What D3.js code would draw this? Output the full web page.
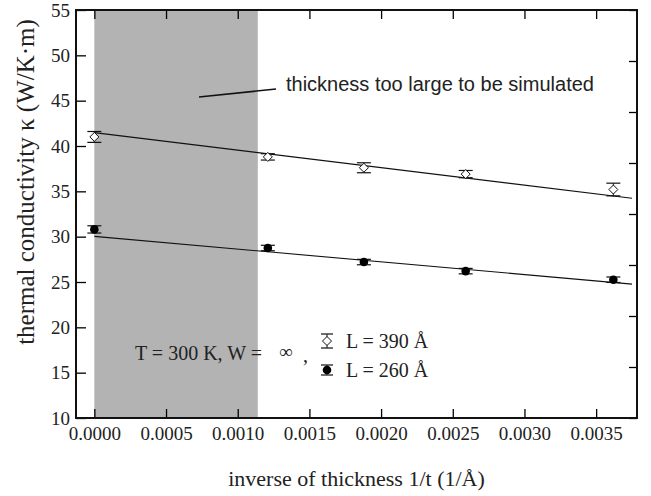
<!DOCTYPE html>
<html>
<head>
<meta charset="utf-8">
<script src="https://cdn.jsdelivr.net/npm/d3@7"></script>
<style>
  body { margin: 0; background: #fff; }
  .axis path, .axis line { stroke: #000; }
  .axis text { font-family: "Liberation Serif", "Times New Roman", serif; font-size: 19px; fill: #222; }
</style>
</head>
<body>
<script>
//data
var invThickness = [0, 0.00121, 0.00188, 0.00259, 0.00362];
var kappaL390 = [41.0, 38.8, 37.6, 36.9, 35.2];
var errL390 = [0.6, 0.35, 0.55, 0.4, 0.7];
var kappaL260 = [30.8, 28.75, 27.2, 26.2, 25.25];
var errL260 = [0.4, 0.3, 0.3, 0.3, 0.3];

//linear fits (end points)
var fitX = [0, 0.00375];
var fitL390 = [41.48, 34.23];
var fitL260 = [30.03, 24.77];

//region that can't be simulated
var shadeX = [0, 0.00114];

var xTicks = [0, 0.0005, 0.0010, 0.0015, 0.0020, 0.0025, 0.0030, 0.0035];
var yTicks = [10, 15, 20, 25, 30, 35, 40, 45, 50, 55];

var width = 651, height = 496;
var plotL = 76, plotR = 637, plotT = 10, plotB = 418;

var svg = d3.select("body")
    .append("svg")
    .attr("width", width)
    .attr("height", height);

//scales
var x = d3.scaleLinear()
    .domain([-0.000128, 0.003785])
    .range([plotL, plotR]);

var y = d3.scaleLinear()
    .domain([10, 55])
    .range([plotB, plotT]);

//grey band
svg.append("rect")
    .attr("x", x(shadeX[0]))
    .attr("y", plotT)
    .attr("width", x(shadeX[1]) - x(shadeX[0]))
    .attr("height", plotB - plotT)
    .style("fill", "#b3b3b3");

//axes, ticks point inward
var fmt = d3.format(".4f");

svg.append("g")
    .attr("class", "axis")
    .attr("transform", "translate(0," + plotB + ")")
    .call(d3.axisBottom(x).tickValues(xTicks).tickFormat(fmt).tickSizeInner(-9).tickSizeOuter(0).tickPadding(9))
    .call(function(g){ g.select(".domain").remove(); });

svg.append("g")
    .attr("class", "axis")
    .attr("transform", "translate(0," + plotT + ")")
    .call(d3.axisTop(x).tickValues(xTicks).tickFormat("").tickSizeInner(-9).tickSizeOuter(0))
    .call(function(g){ g.select(".domain").remove(); });

svg.append("g")
    .attr("class", "axis")
    .attr("transform", "translate(" + plotL + ",0)")
    .call(d3.axisLeft(y).tickValues(yTicks).tickSizeInner(-10).tickSizeOuter(0).tickPadding(6))
    .call(function(g){ g.select(".domain").remove(); });

//right axis has its own 8 divisions
svg.append("g")
    .attr("class", "axis")
    .attr("transform", "translate(" + plotR + ",0)")
    .call(d3.axisRight(y).tickValues(d3.range(0, 9).map(function(i){ return 10 + i * 45 / 8; }))
        .tickFormat("").tickSizeInner(-8).tickSizeOuter(0))
    .call(function(g){ g.select(".domain").remove(); });

svg.selectAll(".axis line").style("stroke-width", 1.3);

//frame
svg.append("rect")
    .attr("x", plotL)
    .attr("y", plotT)
    .attr("width", plotR - plotL)
    .attr("height", plotB - plotT)
    .style("fill", "none")
    .style("stroke", "#111")
    .style("stroke-width", 2);

//fit lines
var line = d3.line()
    .x(function(d){ return x(d[0]); })
    .y(function(d){ return y(d[1]); });

[fitL390, fitL260].forEach(function(f){
    svg.append("path")
        .datum(fitX.map(function(v, i){ return [v, f[i]]; }))
        .attr("d", line)
        .style("fill", "none")
        .style("stroke", "#111")
        .style("stroke-width", 1.1);
});

//error bars
function errorBars(vals, errs){
    var g = svg.append("g");
    var d = invThickness.map(function(v, i){ return {x: v, y: vals[i], e: errs[i]}; });
    g.selectAll(".bar").data(d).enter().append("line")
        .attr("x1", function(d){ return x(d.x); })
        .attr("x2", function(d){ return x(d.x); })
        .attr("y1", function(d){ return y(d.y - d.e); })
        .attr("y2", function(d){ return y(d.y + d.e); })
        .style("stroke", "#111");
    [-1, 1].forEach(function(s){
        g.selectAll(".cap" + s).data(d).enter().append("line")
            .attr("x1", function(d){ return x(d.x) - 7; })
            .attr("x2", function(d){ return x(d.x) + 7; })
            .attr("y1", function(d){ return y(d.y + s * d.e); })
            .attr("y2", function(d){ return y(d.y + s * d.e); })
            .style("stroke", "#111")
            .style("stroke-width", 1.2);
    });
}
errorBars(kappaL390, errL390);
errorBars(kappaL260, errL260);

//diamonds for L = 390
var diamond = "M0,-4.5L4.5,0L0,4.5L-4.5,0Z";
svg.selectAll(".d390")
    .data(kappaL390)
    .enter()
    .append("path")
    .attr("d", diamond)
    .attr("transform", function(d, i){ return "translate(" + x(invThickness[i]) + "," + y(d) + ")"; })
    .style("fill", "#fff")
    .style("stroke", "#111")
    .style("stroke-width", 1);

//filled circles for L = 260
svg.selectAll(".c260")
    .data(kappaL260)
    .enter()
    .append("circle")
    .attr("cx", function(d, i){ return x(invThickness[i]); })
    .attr("cy", function(d){ return y(d); })
    .attr("r", 4.3)
    .style("fill", "#000");

//axis titles
svg.append("text")
    .attr("x", (plotL + plotR) / 2)
    .attr("y", 486)
    .attr("text-anchor", "middle")
    .style("font-family", "Liberation Serif, serif")
    .style("font-size", "22px")
    .style("fill", "#222")
    .text("inverse of thickness 1/t (1/Å)");

svg.append("text")
    .attr("transform", "translate(34,182) rotate(-90)")
    .attr("text-anchor", "middle")
    .style("font-family", "Liberation Serif, serif")
    .style("font-size", "25px")
    .style("fill", "#222")
    .text("thermal conductivity κ (W/K·m)");

//annotation
svg.append("line")
    .attr("x1", 199).attr("y1", 97)
    .attr("x2", 276).attr("y2", 89)
    .style("stroke", "#111")
    .style("stroke-width", 1.6);

svg.append("text")
    .attr("x", 286)
    .attr("y", 91)
    .style("font-family", "Liberation Sans, Arial, sans-serif")
    .style("font-size", "20px")
    .style("fill", "#222")
    .text("thickness too large to be simulated");

//legend
var serif = "Liberation Serif, serif";
svg.append("text")
    .attr("x", 135).attr("y", 360)
    .style("font-family", serif).style("font-size", "20px").style("fill", "#222")
    .text("T = 300 K, W =");
svg.append("text")
    .attr("x", 279).attr("y", 358)
    .style("font-family", serif).style("font-size", "19px").style("fill", "#222")
    .text("∞");
svg.append("text")
    .attr("x", 303).attr("y", 362)
    .style("font-family", serif).style("font-size", "20px").style("fill", "#222")
    .text(",");

var legendRows = [
    {label: "L = 390 Å", y: 341, half: 7, filled: false},
    {label: "L = 260 Å", y: 370, half: 5, filled: true}
];
var lx = 327;
legendRows.forEach(function(r){
    svg.append("line")
        .attr("x1", lx).attr("x2", lx)
        .attr("y1", r.y - r.half).attr("y2", r.y + r.half)
        .style("stroke", "#111");
    [-1, 1].forEach(function(s){
        svg.append("line")
            .attr("x1", lx - 6).attr("x2", lx + 6)
            .attr("y1", r.y + s * r.half).attr("y2", r.y + s * r.half)
            .style("stroke", "#111").style("stroke-width", 1.2);
    });
    if (r.filled) {
        svg.append("circle").attr("cx", lx).attr("cy", r.y).attr("r", 4.3).style("fill", "#000");
    } else {
        svg.append("path").attr("d", diamond)
            .attr("transform", "translate(" + lx + "," + r.y + ")")
            .style("fill", "#fff").style("stroke", "#111");
    }
    svg.append("text")
        .attr("x", 346).attr("y", r.y + 7)
        .style("font-family", serif).style("font-size", "20px").style("fill", "#222")
        .text(r.label);
});
</script>
</body>
</html>
